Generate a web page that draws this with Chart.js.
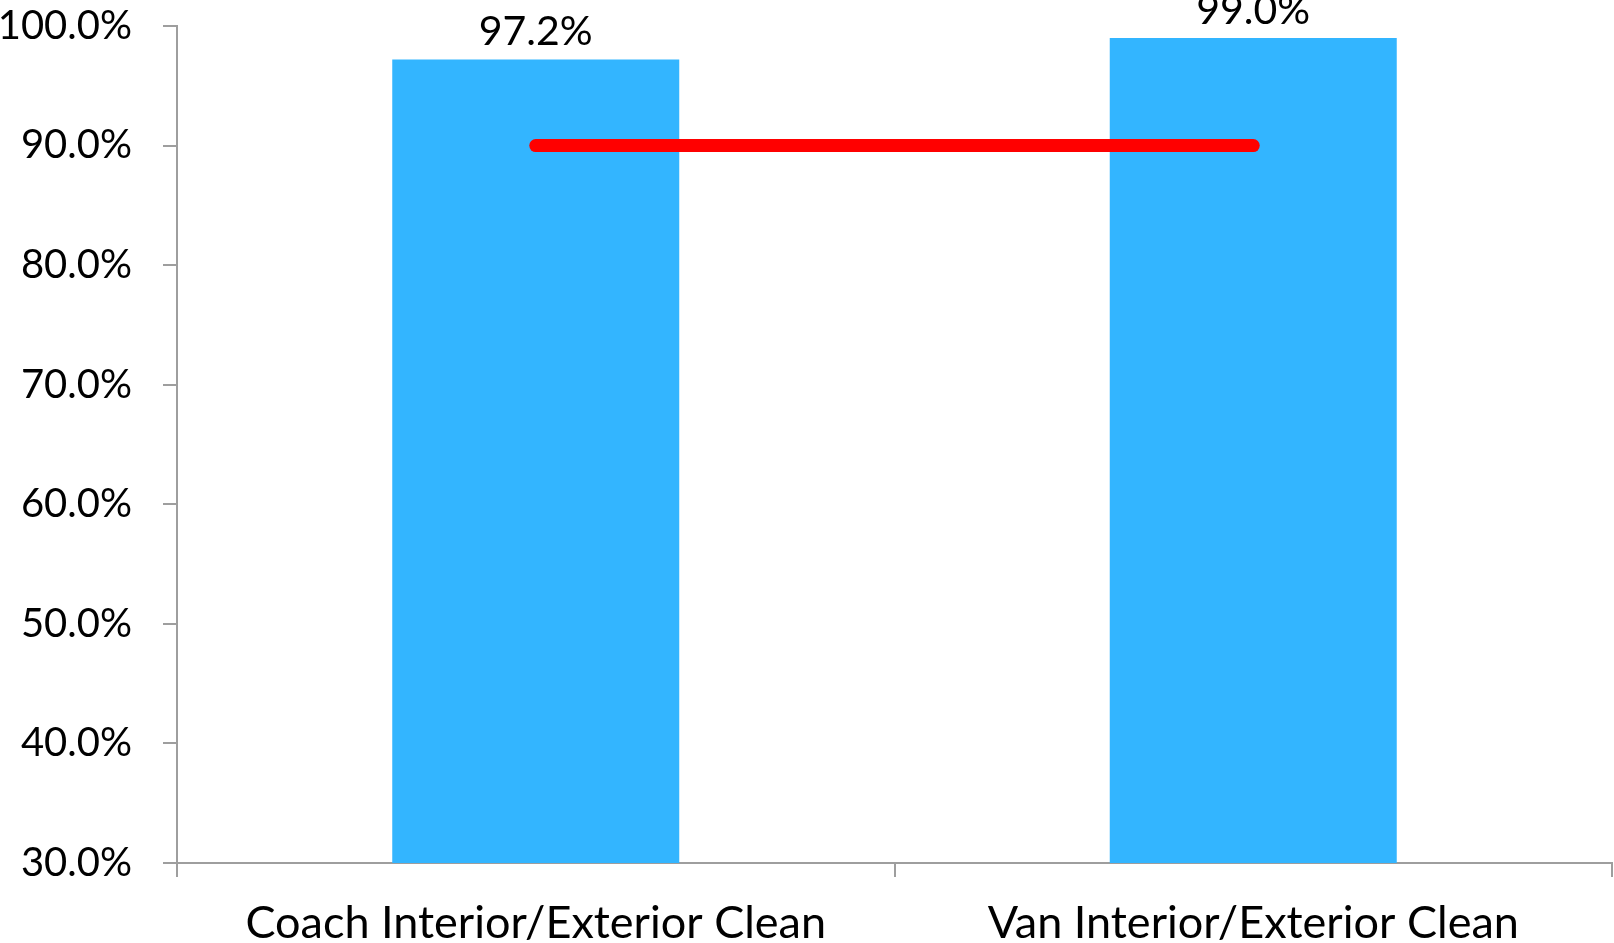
<!DOCTYPE html>
<html>
<head>
<meta charset="utf-8">
<title>Interior/Exterior Clean</title>
<script src="https://cdn.jsdelivr.net/npm/chart.js@4/dist/chart.umd.min.js"></script>
<style>
  html, body { margin: 0; padding: 0; background: #ffffff; }
  #wrap { width: 1614px; height: 943px; }
</style>
</head>
<body>
<div id="wrap"><canvas id="chart" width="1614" height="943"></canvas></div>
<script>
// Categories and values
const categories = ['Coach Interior/Exterior Clean', 'Van Interior/Exterior Clean'];
const cleanRates = [97.2, 99.0];
const targetRates = [90.0, 90.0];
const yTickValues = [30, 40, 50, 60, 70, 80, 90, 100];

const FONT = 'Lato, "Open Sans", sans-serif';
const AXIS_GREY = '#9e9e9e';

// Value labels drawn above each bar of the bar dataset
const barValueLabels = {
  id: 'barValueLabels',
  afterDatasetsDraw(chart) {
    const ctx = chart.ctx;
    const barIndex = chart.data.datasets.findIndex(ds => ds.type === 'bar');
    const meta = chart.getDatasetMeta(barIndex);
    const values = chart.data.datasets[barIndex].data;
    ctx.save();
    ctx.font = '41px ' + FONT;
    ctx.fillStyle = '#000000';
    ctx.textAlign = 'center';
    ctx.textBaseline = 'alphabetic';
    meta.data.forEach((bar, i) => {
      ctx.fillText(values[i].toFixed(1) + '%', bar.x, bar.y - 14);
    });
    ctx.restore();
  }
};

new Chart(document.getElementById('chart'), {
  data: {
    labels: categories,
    datasets: [
      {
        type: 'line',
        label: 'Target',
        data: targetRates,
        borderColor: '#ff0000',
        borderWidth: 13,
        borderCapStyle: 'round',
        pointRadius: 0,
        pointHoverRadius: 0,
        fill: false,
        order: 0
      },
      {
        type: 'bar',
        label: 'Clean',
        data: cleanRates,
        backgroundColor: '#33b5ff',
        borderWidth: 0,
        categoryPercentage: 1.0,
        barPercentage: 0.4,
        order: 1
      }
    ]
  },
  options: {
    responsive: false,
    animation: false,
    layout: { padding: { top: 0, right: 2, left: 0, bottom: 0 } },
    plugins: {
      legend: { display: false },
      tooltip: { enabled: false }
    },
    scales: {
      x: {
        type: 'category',
        offset: true,
        border: { display: true, color: AXIS_GREY, width: 2 },
        grid: {
          offset: true,
          drawOnChartArea: false,
          drawTicks: true,
          tickLength: 14,
          color: AXIS_GREY,
          lineWidth: 2
        },
        ticks: {
          color: '#000000',
          font: { family: FONT, size: 45 },
          padding: 19,
          maxRotation: 0,
          autoSkip: false
        },
        afterFit(scale) { scale.height = 80; }
      },
      y: {
        min: 30,
        max: 100,
        border: { display: true, color: AXIS_GREY, width: 2 },
        grid: {
          drawOnChartArea: false,
          drawTicks: true,
          tickLength: 14,
          color: AXIS_GREY,
          lineWidth: 2
        },
        afterBuildTicks(scale) {
          scale.ticks = yTickValues.map(v => ({ value: v }));
        },
        ticks: {
          color: '#000000',
          font: { family: FONT, size: 40 },
          padding: 31,
          callback: v => Number(v).toFixed(1) + '%'
        },
        afterFit(scale) {
          scale.width = 177;
          scale.paddingTop = 26;
          scale.paddingBottom = 0;
        }
      }
    }
  },
  plugins: [barValueLabels]
});
</script>
</body>
</html>
